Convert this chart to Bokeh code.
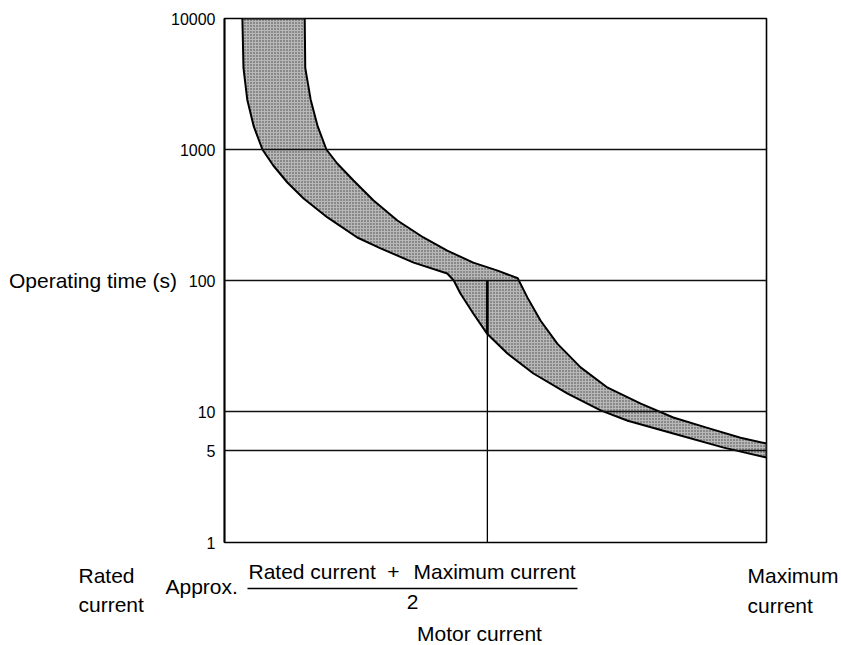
import numpy as np
from bokeh.plotting import figure
from bokeh.layouts import column
from bokeh.models import Range1d, FixedTicker, PrintfTickFormatter
from bokeh.core.properties import value
from bokeh.embed import file_html
from bokeh.resources import INLINE

# ---- data (x: 0 = rated current, 100 = maximum current; y: operating time, s) ----
band1_lower_x = [3.3, 3.5, 4.2, 5.4, 7.0, 9.0, 11.6, 14.6, 19.0, 24.5, 28.8, 34.9, 41.1, 42.3]
band1_lower_y = [10000, 4200, 2400, 1500, 1000, 755, 560, 423, 303, 213, 176, 137, 113, 100]
band1_upper_x = [14.8, 14.9, 15.9, 17.2, 18.8, 20.8, 23.8, 27.5, 31.9, 36.7, 41.1, 45.9, 50.4, 54.1]
band1_upper_y = [10000, 4200, 2400, 1500, 1000, 782, 580, 408, 287, 213, 169, 137, 119, 104]
band2_lower_x = [42.3, 43.5, 45.9, 48.5, 52.2, 57.0, 63.3, 69.4, 74.4, 82.8, 92.1, 100]
band2_lower_y = [100, 80, 56, 39, 27.7, 19.5, 13.7, 10.2, 8.5, 6.8, 5.3, 4.45]
band2_upper_x = [54.1, 55.9, 58.3, 61.4, 65.7, 70.7, 76.8, 82.8, 89.1, 95.2, 100]
band2_upper_y = [104, 74, 49.5, 33, 21.7, 15.2, 11.5, 9.0, 7.5, 6.3, 5.7]
x_mid = 48.5
y_ticks = [1, 5, 10, 100, 1000, 10000]
grid_values = [5, 10, 100, 1000]

FONT = "Liberation Sans"
W = 841

p = figure(width=W, height=556, output_backend="svg", toolbar_location=None,
           x_range=Range1d(0, 100), y_range=Range1d(1, 10000), y_axis_type="log",
           x_axis_location=None, min_border_left=224, min_border_right=W - 766,
           min_border_top=18, min_border_bottom=14)
p.frame_align = False
p.title.visible = False
p.background_fill_color = "white"
p.border_fill_color = "white"
p.outline_line_color = "black"
p.outline_line_width = 1.6

ax = p.yaxis[0]
ax.ticker = FixedTicker(ticks=y_ticks, minor_ticks=[])
ax.formatter = PrintfTickFormatter(format="%d")
ax.major_tick_in = 0
ax.major_tick_out = 0
ax.minor_tick_line_color = None
ax.major_label_standoff = 9
ax.major_label_text_font = FONT
ax.major_label_text_font_size = "16px"
ax.major_label_text_color = "black"
ax.axis_line_color = "black"
ax.axis_line_width = 1.8
ax.axis_label = "Operating time (s)"
ax.axis_label_orientation = "horizontal"
ax.axis_label_standoff = -9
ax.axis_label_text_font = FONT
ax.axis_label_text_font_size = "21px"
ax.axis_label_text_font_style = "normal"
ax.axis_label_text_color = "black"

p.xgrid.visible = False
p.ygrid.ticker = FixedTicker(ticks=grid_values, minor_ticks=[])
p.ygrid.grid_line_color = "#111111"
p.ygrid.grid_line_width = 1.5
p.ygrid.level = "overlay"

# shaded band
poly_x = band1_lower_x + band2_lower_x[1:] + band2_upper_x[::-1] + band1_upper_x[::-1][1:]
poly_y = band1_lower_y + band2_lower_y[1:] + band2_upper_y[::-1] + band1_upper_y[::-1][1:]
p.patch(poly_x, poly_y, fill_color="#b8b8b8", hatch_pattern="dot", hatch_color="#333333",
        hatch_scale=3, hatch_weight=1, hatch_alpha=0.9, line_color="black", line_width=2,
        line_join="round")

# vertical line at approx. mid current
mid_low = 10 ** np.interp(x_mid, band2_lower_x, np.log10(band2_lower_y))
p.segment(x0=[x_mid], y0=[1], x1=[x_mid], y1=[100], line_color="black", line_width=1.3)
p.segment(x0=[x_mid], y0=[mid_low], x1=[x_mid], y1=[100], line_color="black", line_width=2.6)

# ---- text strip under the chart (pixel coordinates, y downwards) ----
H2 = 89
q = figure(width=W, height=H2, output_backend="svg", toolbar_location=None,
           x_range=Range1d(0, W), y_range=Range1d(H2, 0),
           x_axis_location=None, y_axis_location=None,
           min_border_left=0, min_border_right=0, min_border_top=0, min_border_bottom=0)
q.frame_align = False
q.title.visible = False
q.outline_line_color = None
q.grid.visible = False
q.background_fill_color = "white"
q.border_fill_color = "white"

common = dict(text_baseline="alphabetic", text_font=value(FONT), text_font_size="21px",
              text_color="black")
q.text(x=[78, 78, 165, 248, 413, 747, 747], y=[19, 48, 30, 15, 15, 19, 49],
       text=["Rated", "current", "Approx.", "Rated current", "Maximum current",
             "Maximum", "current"], text_align="left", **common)
q.text(x=[393, 412, 479], y=[15, 45, 77], text=["+", "2", "Motor current"],
       text_align="center", **common)
q.segment(x0=[247], y0=[32], x1=[577], y1=[32], line_color="black", line_width=1.5)

open("out.html", "w").write(file_html(column(p, q, spacing=0), INLINE))
